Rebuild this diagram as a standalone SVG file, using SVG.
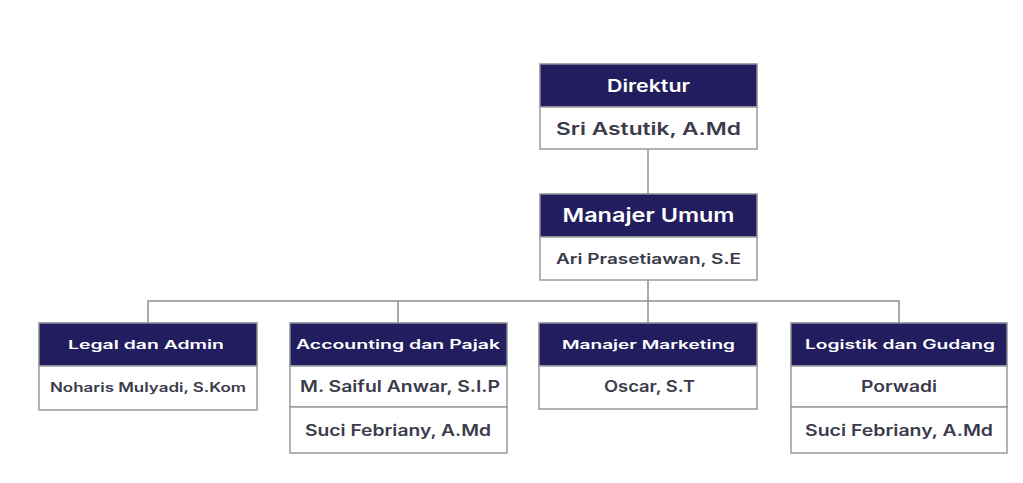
<svg xmlns="http://www.w3.org/2000/svg" width="1023" height="483" viewBox="0 0 1023 483">
<style>
.hd{fill:#221d5e;stroke:#8a8a94;stroke-width:1.5}
.bd{fill:#ffffff;stroke:#9a9aa0;stroke-width:1.5}
.ht{fill:#ffffff;font-family:Inter,"Noto Sans",sans-serif;font-weight:600;text-anchor:middle}
.bt{fill:#3b3b4c;font-family:Inter,"Noto Sans",sans-serif;font-weight:600;text-anchor:middle}
.ln{fill:none;stroke:#8e8e94;stroke-width:1.5}
</style>
<rect width="1023" height="483" fill="#ffffff"/>
<g id="connectors">
<path class="ln" d="M648 149V194"/>
<path class="ln" d="M648 280V323"/>
<path class="ln" d="M148 323V301H899V323"/>
<path class="ln" d="M398 301V323"/>
</g>
<g id="direktur">
<rect class="hd" x="540" y="64" width="217" height="43"/>
<rect class="bd" x="540" y="107" width="217" height="42"/>
<text class="ht" x="648.5" y="92" font-size="17" textLength="83" lengthAdjust="spacingAndGlyphs">Direktur</text>
<text class="bt" x="648.5" y="134.5" font-size="17" textLength="185" lengthAdjust="spacingAndGlyphs">Sri Astutik, A.Md</text>
</g>
<g id="manajer-umum">
<rect class="hd" x="540" y="194" width="217" height="43"/>
<rect class="bd" x="540" y="237" width="217" height="43"/>
<text class="ht" x="648.5" y="222" font-size="19" textLength="172" lengthAdjust="spacingAndGlyphs">Manajer Umum</text>
<text class="bt" x="648.5" y="263.5" font-size="14.5" textLength="185" lengthAdjust="spacingAndGlyphs">Ari Prasetiawan, S.E</text>
</g>
<g id="legal">
<rect class="hd" x="39" y="323" width="218" height="43"/>
<rect class="bd" x="39" y="366" width="218" height="44"/>
<text class="ht" x="146" y="349" font-size="12" textLength="156" lengthAdjust="spacingAndGlyphs">Legal dan Admin</text>
<text class="bt" x="148" y="392" font-size="12.5" textLength="196" lengthAdjust="spacingAndGlyphs">Noharis Mulyadi, S.Kom</text>
</g>
<g id="accounting">
<rect class="hd" x="290" y="323" width="217" height="43"/>
<rect class="bd" x="290" y="366" width="217" height="41"/>
<rect class="bd" x="290" y="407" width="217" height="46"/>
<text class="ht" x="398" y="349" font-size="12.5" textLength="204" lengthAdjust="spacingAndGlyphs">Accounting dan Pajak</text>
<text class="bt" x="400" y="392" font-size="15.5" textLength="200" lengthAdjust="spacingAndGlyphs">M. Saiful Anwar, S.I.P</text>
<text class="bt" x="398" y="436" font-size="15.5" textLength="186" lengthAdjust="spacingAndGlyphs">Suci Febriany, A.Md</text>
</g>
<g id="marketing">
<rect class="hd" x="539" y="323" width="218" height="43"/>
<rect class="bd" x="539" y="366" width="218" height="43"/>
<text class="ht" x="648.5" y="349" font-size="12" textLength="173" lengthAdjust="spacingAndGlyphs">Manajer Marketing</text>
<text class="bt" x="649.5" y="392" font-size="15.5" textLength="91" lengthAdjust="spacingAndGlyphs">Oscar, S.T</text>
</g>
<g id="logistik">
<rect class="hd" x="791" y="323" width="216" height="43"/>
<rect class="bd" x="791" y="366" width="216" height="41"/>
<rect class="bd" x="791" y="407" width="216" height="46"/>
<text class="ht" x="900" y="349" font-size="12.5" textLength="190" lengthAdjust="spacingAndGlyphs">Logistik dan Gudang</text>
<text class="bt" x="899" y="392" font-size="15.5" textLength="76" lengthAdjust="spacingAndGlyphs">Porwadi</text>
<text class="bt" x="899" y="436" font-size="15.5" textLength="188" lengthAdjust="spacingAndGlyphs">Suci Febriany, A.Md</text>
</g>
</svg>
